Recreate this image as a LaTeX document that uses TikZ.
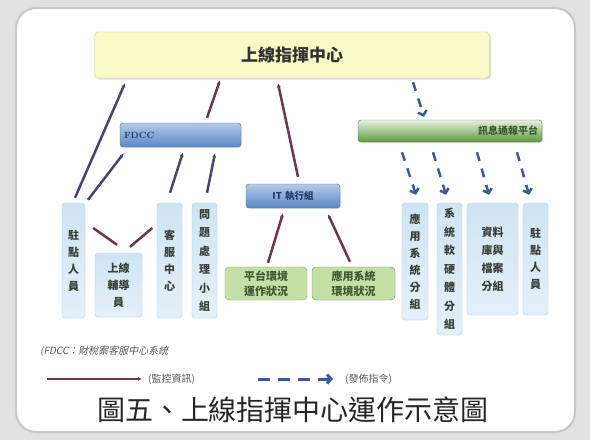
\documentclass[tikz,border=0pt]{standalone}
\usepackage{fontspec}
\usepackage{tikz}
\usetikzlibrary{calc,arrows.meta,shadows}

\newfontfamily\cjk{Noto Sans CJK TC}
\newfontfamily\cjkslant[FakeSlant=0.2]{Noto Sans CJK TC}

\definecolor{bggray}{HTML}{E2E2E2}
\definecolor{cardline}{HTML}{C8C8C8}
\definecolor{topfill}{HTML}{FAFAC6}
\definecolor{topline}{HTML}{CFCFA6}
\definecolor{barblue}{HTML}{5A88C8}
\definecolor{barline}{HTML}{4C6E9E}
\definecolor{navy}{HTML}{233B66}
\definecolor{bargreen}{HTML}{5F9A3C}
\definecolor{vblue}{HTML}{CFE4F4}
\definecolor{vline}{HTML}{B4CCE0}
\definecolor{boxtext}{HTML}{3A4238}
\definecolor{gfill}{HTML}{C4E0A6}
\definecolor{gline}{HTML}{86A46A}
\definecolor{gtext}{HTML}{3E5A30}
\definecolor{monred}{HTML}{71344F}
\definecolor{monblue}{HTML}{4A4472}
\definecolor{cmdblue}{HTML}{3A5A9C}

\tikzset{
  card/.style={fill=white, draw=cardline, line width=2pt, rounded corners=20pt},
  topbox/.style={draw=topline, fill=topfill, rounded corners=4pt,
    drop shadow={opacity=0.25, shadow xshift=1.5pt, shadow yshift=-1.5pt},
    font=\cjk\bfseries\fontsize{17}{20}\selectfont, text=black!80},
  bluebar/.style={draw=barline, rounded corners=3pt, top color=barblue!45!white,
    bottom color=barblue, drop shadow={opacity=0.2, shadow xshift=1pt, shadow yshift=-1pt},
    font=\bfseries\fontsize{9}{11}\selectfont, text=navy, inner sep=4pt},
  greenbar/.style={draw=bargreen!80!black, rounded corners=3pt, top color=bargreen!15!white,
    bottom color=bargreen, drop shadow={opacity=0.2, shadow xshift=1pt, shadow yshift=-1pt},
    font=\cjk\bfseries\fontsize{10}{12}\selectfont, text=gtext, inner sep=4pt},
  vbox/.style={draw=vline, rounded corners=3pt, top color=vblue, bottom color=vblue!55!white,
    inner sep=0pt, align=center, text=boxtext,
    font=\cjk\bfseries\fontsize{11}{17}\selectfont},
  gbox/.style={draw=gline, fill=gfill, rounded corners=4pt, inner sep=0pt, align=center,
    text=gtext, font=\cjk\bfseries\fontsize{11}{15}\selectfont,
    minimum height=33},
  mon/.style={line width=2.5pt, color=monred, -{Latex[length=4pt,width=4pt]}},
  cmd/.style={line width=2.5pt, color=cmdblue, dash pattern=on 9pt off 8pt,
    -{Straight Barb[length=4pt,width=9pt]}},
  legend/.style={font=\cjk\fontsize{10}{12}\selectfont, text=black!65, inner sep=0pt, anchor=west},
}

\begin{document}
\begin{tikzpicture}[x=1pt,y=-1pt]
  \useasboundingbox (0,0) rectangle (590,440);
  \fill[bggray] (0,0) rectangle (590,440);
  \draw[card] (16,8) rectangle (575,432);

  % command centre and bars
  \node[topbox, minimum width=395, minimum height=46] (top) at (292,55) {上線指揮中心};
  \node[bluebar, text width=113, align=left, minimum height=24] (fdcc) at (180.5,135) {FDCC};
  \node[bluebar, text width=86, align=center, minimum height=24, font=\cjk\bfseries\fontsize{9.5}{11}\selectfont] (it) at (293,196) {IT 執行組};
  \node[greenbar, text width=176, align=right, minimum height=22] (msg) at (450,131) {訊息通報平台};

  % left column boxes
  \node[vbox, minimum width=23, minimum height=115] (zd1) at (73.5,260.5) {駐\\點\\人\\員};
  \node[vbox, minimum width=47, minimum height=64] (fd) at (118.5,285) {上線\\輔導\\員};
  \node[vbox, minimum width=25, minimum height=115] (kf) at (169.5,260.5) {客\\服\\中\\心};
  \node[vbox, minimum width=25, minimum height=115, font=\cjk\bfseries\fontsize{11}{18.5}\selectfont] (wt) at (204.5,260.5) {問\\題\\處\\理\\小\\組};

  % environment boxes
  \node[gbox, minimum width=82] (pt) at (266,283.5) {平台環境\\運作狀況};
  \node[gbox, minimum width=83, draw=black!55] (ap) at (353.5,283.5) {應用系統\\環境狀況};

  % right column boxes
  \node[vbox, minimum width=26, minimum height=117] (as1) at (415,261.5) {應\\用\\系\\統\\分\\組};
  \node[vbox, minimum width=25, minimum height=132, font=\cjk\bfseries\fontsize{11}{18.5}\selectfont] (as2) at (449.5,269) {系\\統\\軟\\硬\\體\\分\\組};
  \node[vbox, minimum width=51, minimum height=112, font=\cjk\bfseries\fontsize{11}{18}\selectfont] (db) at (492.5,259) {資料\\庫與\\檔案\\分組};
  \node[vbox, minimum width=25, minimum height=112] (zd2) at (535.5,259) {駐\\點\\人\\員};

  % monitoring lines
  \draw[mon, color=monblue] ($(zd1.north)+(1.5,-5)$) -- ($(top.south)+(-167,5)$);
  \draw[mon, color=monblue] ($(zd1.north)+(14.5,-3)$) -- ($(fdcc.south west)+(4,6)$);
  \draw[mon] ($(fdcc.north)+(26.5,-5)$) -- ($(top.south)+(-72,2)$);
  \draw[mon, color=monblue] ($(kf.north)+(0.5,-10)$) -- ($(fdcc.south)+(2.5,5)$);
  \draw[mon, color=monblue] ($(wt.north)+(2.5,-10)$) -- ($(fdcc.south)+(34.5,6)$);
  \draw[mon, -] ($(fd.north)+(-1.5,-8)$) -- ($(zd1.east)+(8,-32.5)$);
  \draw[mon, -] ($(fd.north)+(11.5,-6)$) -- ($(kf.west)+(-4.5,-32.5)$);
  \draw[mon] ($(it.north)+(5,-7)$) -- ($(top.south)+(-14,5)$);
  \draw[mon] ($(pt.north)+(2,-4)$) -- ($(it.south)+(-10,5)$);
  \draw[mon] ($(ap.north)+(-3.5,-5)$) -- ($(it.south)+(35,6)$);

  % command lines
  \draw[cmd] ($(top.south)+(121,4)$) -- ($(msg.north)+(-26,-3)$);
  \draw[cmd] ($(msg.south)+(-48,10)$) -- ($(as1.north)+(1,-8)$);
  \draw[cmd] ($(msg.south)+(-17,10)$) -- ($(as2.north)+(-3.5,-8)$);
  \draw[cmd] ($(msg.south)+(27,10)$) -- ($(db.north)+(-3.5,-8)$);
  \draw[cmd] ($(msg.south)+(67,10)$) -- ($(zd2.north)+(-6.5,-8)$);

  % legend
  \node[legend, font=\cjkslant\fontsize{10}{12}\selectfont] (note) at (40,351) {(FDCC：財稅案客服中心系統};
  \node[legend] (monlbl) at (148,379) {(監控資訊)};
  \node[legend] (cmdlbl) at (345,379) {(發佈指令)};
  \coordinate (monstart) at (47,379);
  \coordinate (cmdstart) at (258,379);
  \draw[mon, line width=2pt] (monstart) -- ($(monlbl.west)+(-6,0)$);
  \draw[cmd, line width=3pt, dash pattern=on 12pt off 8pt] (cmdstart) -- ($(cmdlbl.west)+(-12,0)$);

  % caption
  \node[font=\cjk\fontsize{28}{32}\selectfont, text=black!85] (caption) at (293,410) {圖五、上線指揮中心運作示意圖};
\end{tikzpicture}
\end{document}
